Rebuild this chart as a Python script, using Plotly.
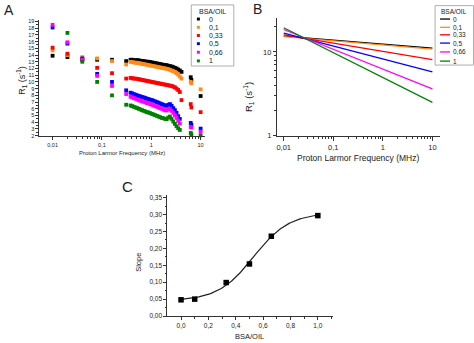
import plotly.graph_objects as go

W, H = 474, 343

# ---------------- data ----------------
SERIES_NAMES = ["0", "0,1", "0,33", "0,5", "0,66", "1"]
BSA_OIL = [0.0, 0.1, 0.33, 0.5, 0.66, 1.0]
COLORS = ["#000000", "#FF8C1A", "#FF0000", "#0000FF", "#FF00FF", "#008000"]

# NMRD profiles (panel A)
LOW_FREQ = [0.01, 0.02, 0.04, 0.08, 0.16, 0.31]
DENSE_FREQ = [0.38, 0.41, 0.44, 0.48, 0.52, 0.56, 0.60, 0.65, 0.70, 0.76, 0.82,
              0.88, 0.95, 1.03, 1.11, 1.20, 1.30, 1.40, 1.51, 1.63, 1.76, 1.90,
              2.05, 2.21, 2.39, 2.58, 2.79, 3.01, 3.25, 3.51, 3.79, 4.10]
HIGH_FREQ = [6.3, 6.5, 10.0]

R1_LOW = [
    [13.9, 13.7, 13.3, 13.3, 13.3, 13.1],
    [14.7, 14.0, 13.7, 13.5, 13.1, 12.6],
    [15.1, 14.2, 13.4, 12.1, 11.3, 10.5],
    [18.1, 15.7, 13.5, 11.2, 10.0, 8.75],
    [18.5, 15.9, 13.3, 10.9, 9.4, 8.2],
    [None, 17.3, 13.0, 10.0, 8.0, 6.6],
]
R1_DENSE = [
    [13.3, 13.3, 13.25, 13.2, 13.25, 13.2, 13.15, 13.1, 13.1, 13.05, 13.0,
     13.0, 12.95, 12.9, 12.85, 12.8, 12.75, 12.7, 12.65, 12.6, 12.55, 12.5,
     12.5, 12.4, 12.35, 12.3, 12.2, 12.1, 12.0, 11.85, 11.7, 11.5],
    [13.0, 12.95, 12.9, 12.85, 12.85, 12.8, 12.75, 12.7, 12.65, 12.6, 12.55,
     12.5, 12.45, 12.4, 12.35, 12.3, 12.25, 12.2, 12.15, 12.1, 12.05, 12.0,
     11.95, 11.9, 11.8, 11.7, 11.6, 11.5, 11.3, 11.1, 10.8, 10.5],
    [10.6, 10.55, 10.5, 10.5, 10.45, 10.4, 10.35, 10.3, 10.25, 10.2, 10.15,
     10.1, 10.05, 10.0, 9.95, 9.9, 9.85, 9.8, 9.75, 9.7, 9.65, 9.6,
     9.55, 9.5, 9.45, 9.4, 9.3, 9.2, 9.0, 8.8, 8.5, 7.3],
    [8.4, 8.3, 8.2, 8.1, 8.0, 7.9, 7.85, 7.75, 7.7, 7.6, 7.5,
     7.45, 7.35, 7.3, 7.2, 7.1, 7.0, 6.9, 6.8, 6.7, 6.6, 6.5,
     6.45, 6.6, 6.7, 6.45, 6.1, 5.8, 5.4, 4.9, 4.5, None],
    [7.8, 7.7, 7.6, 7.5, 7.4, 7.3, 7.2, 7.1, 7.05, 6.95, 6.85,
     6.8, 6.7, 6.6, 6.5, 6.4, 6.3, 6.2, 6.1, 6.0, 5.9, 5.8,
     5.75, 5.95, 6.0, 5.7, 5.4, 5.05, 4.65, 4.2, 3.8, None],
    [6.5, 6.4, 6.3, 6.2, 6.1, 6.0, 5.9, 5.8, 5.7, 5.6, 5.5,
     5.45, 5.35, 5.25, 5.15, 5.05, 4.95, 4.85, 4.75, 4.65, 4.6, 4.5,
     4.45, 4.7, 4.85, 4.5, 4.1, 3.75, 3.4, 3.1, 2.85, None],
]
R1_HIGH = [
    [10.7, 10.3, 7.9],
    [10.0, 9.8, 8.9],
    [6.7, 6.2, 5.5],
    [3.9, 3.6, 3.05],
    [3.3, 3.2, 2.6],
    [2.4, 2.2, 2.05],
]

# power-law fits R1 = R1_1MHZ * f^(-slope)  (panel B) and slopes (panel C)
SLOPE = [0.048, 0.050, 0.099, 0.154, 0.236, 0.297]
R1_1MHZ = [12.4, 12.1, 10.15, 8.25, 6.25, 4.95]
FIT_FREQ = [0.01, 10.0]

# Boltzmann sigmoid fit of slope vs BSA/OIL
BOLTZ_A1, BOLTZ_A2, BOLTZ_X0, BOLTZ_DX = 0.045, 0.305, 0.53, 0.13
CURVE_X = [i / 100 for i in range(0, 101)]

FONT = "Arial, Liberation Sans, sans-serif"

fig = go.Figure()

# ---------------- panel A ----------------
for name, col, lo, de, hi in zip(SERIES_NAMES, COLORS, R1_LOW, R1_DENSE, R1_HIGH):
    fig.add_trace(go.Scatter(
        x=LOW_FREQ + DENSE_FREQ + HIGH_FREQ, y=lo + de + hi,
        mode="markers", marker=dict(symbol="square", size=3.8, color=col, line=dict(width=0)),
        name=name, xaxis="x", yaxis="y", showlegend=False, cliponaxis=False))

# ---------------- panel B ----------------
for name, col, s, a in zip(SERIES_NAMES, COLORS, SLOPE, R1_1MHZ):
    fig.add_trace(go.Scatter(
        x=FIT_FREQ, y=[a * f ** (-s) for f in FIT_FREQ],
        mode="lines", line=dict(color=col, width=1.3),
        name=name, xaxis="x2", yaxis="y2", showlegend=False))

# ---------------- panel C ----------------
curve_y = [BOLTZ_A2 + (BOLTZ_A1 - BOLTZ_A2) / (1 + 2.718281828 ** ((x - BOLTZ_X0) / BOLTZ_DX))
           for x in CURVE_X]
fig.add_trace(go.Scatter(x=CURVE_X, y=curve_y, mode="lines",
                         line=dict(color="#222222", width=1.2),
                         xaxis="x3", yaxis="y3", showlegend=False))
fig.add_trace(go.Scatter(x=BSA_OIL, y=SLOPE, mode="markers",
                         marker=dict(symbol="square", size=5.5, color="#000000"),
                         xaxis="x3", yaxis="y3", showlegend=False, cliponaxis=False))


def px_x(p):
    return p / W


def px_y(p):
    return 1 - p / H


def minor_log():
    vals = []
    for d in [0.01, 0.1, 1.0]:
        vals += [d * k for k in range(2, 10)]
    return vals


axis_common = dict(showline=True, linecolor="#333333", linewidth=1, ticks="outside",
                   tickcolor="#333333", showgrid=False, zeroline=False, mirror=False)

layout = dict(
    width=W, height=H, margin=dict(l=0, r=0, t=0, b=0),
    paper_bgcolor="white", plot_bgcolor="white",
    font=dict(family=FONT, color="#222222"),
    xaxis=dict(**axis_common, type="log", domain=[px_x(38), px_x(204)],
               range=[-2.277, 1.08], anchor="y",
               tickvals=[0.01, 0.1, 1, 10], ticktext=["0,01", "0,1", "1", "10"],
               ticklen=3, tickwidth=1, tickfont=dict(size=5.5),
               minor=dict(ticks="outside", ticklen=1.8, tickcolor="#333333",
                          tickvals=minor_log())),
    yaxis=dict(**axis_common, domain=[px_y(137), px_y(19)], range=[1.95, 19.26],
               anchor="x", tickvals=list(range(2, 20)), ticklen=2.5,
               tickfont=dict(size=5.5),
               minor=dict(ticks="outside", ticklen=1.5, tickcolor="#333333",
                          tickvals=[k + 0.5 for k in range(2, 19)])),
    xaxis2=dict(**axis_common, type="log", domain=[px_x(277), px_x(440)],
                range=[-2.127, 1.155], anchor="y2",
                tickvals=[0.01, 0.1, 1, 10], ticktext=["0,01", "0,1", "1", "10"],
                ticklen=3.5, tickfont=dict(size=7.5),
                minor=dict(ticks="outside", ticklen=2, tickcolor="#333333",
                           tickvals=minor_log())),
    yaxis2=dict(**axis_common, type="log", domain=[px_y(137), px_y(17)],
                range=[-0.0035, 1.408], anchor="x2",
                tickvals=[1, 10], ticktext=["1", "10"], ticklen=3.5,
                tickfont=dict(size=7.5),
                minor=dict(ticks="outside", ticklen=2, tickcolor="#333333",
                           tickvals=[2, 3, 4, 5, 6, 7, 8, 9, 20])),
    xaxis3=dict(**axis_common, domain=[px_x(166.7), px_x(333)], range=[-0.1, 1.113],
                anchor="y3", tickvals=[0, 0.2, 0.4, 0.6, 0.8, 1.0],
                ticktext=["0,0", "0,2", "0,4", "0,6", "0,8", "1,0"],
                ticklen=3, tickfont=dict(size=6.5),
                minor=dict(ticks="outside", ticklen=1.8, tickcolor="#333333",
                           tickvals=[0.1, 0.3, 0.5, 0.7, 0.9, 1.1])),
    yaxis3=dict(**axis_common, domain=[px_y(319.7), px_y(197)], range=[0, 0.3575],
                anchor="x3", tickvals=[0, 0.05, 0.1, 0.15, 0.2, 0.25, 0.3, 0.35],
                ticktext=["0,00", "0,05", "0,10", "0,15", "0,20", "0,25", "0,30", "0,35"],
                ticklen=3, tickfont=dict(size=6.5),
                minor=dict(ticks="outside", ticklen=1.8, tickcolor="#333333",
                           tickvals=[0.025, 0.075, 0.125, 0.175, 0.225, 0.275, 0.325])),
)
fig.update_layout(**layout)

ann = []
shapes = []


def text(x, y, s, size, angle=0, xanchor="center", yanchor="middle", color="#222222"):
    ann.append(dict(x=px_x(x), y=px_y(y), xref="paper", yref="paper", text=s,
                    showarrow=False, textangle=angle, xanchor=xanchor, yanchor=yanchor,
                    font=dict(size=size, family=FONT, color=color)))


# panel letters
text(1, 9, "A", 14, xanchor="left")
text(251, 8, "B", 14, xanchor="left")
text(119, 188, "C", 15, xanchor="left")

# axis titles
text(121, 154, "Proton Larmor Frequency (MHz)", 6)
text(21, 80, "R<sub>1</sub> (s<sup>-1</sup>)", 9, angle=-90)
text(358, 159, "Proton Larmor Frequency (MHz)", 8.5)
text(248, 97, "R<sub>1</sub> (s<sup>-1</sup>)", 9.5, angle=-90)
text(249, 340, "BSA/OIL", 7.5)
text(137, 265, "Slope", 7.5, angle=-90)

# legend of panel A (square markers)
shapes.append(dict(type="rect", xref="paper", yref="paper",
                   x0=px_x(190.7), x1=px_x(233.3), y0=px_y(66), y1=px_y(4),
                   line=dict(color="#999999", width=0.8), fillcolor="white"))
text(212, 10.5, "BSA/OIL", 7)
entry_y = [18.3, 26.7, 35.0, 43.3, 52.0, 60.8]
for name, col, ey in zip(SERIES_NAMES, COLORS, entry_y):
    shapes.append(dict(type="rect", xref="paper", yref="paper",
                       x0=px_x(196.3), x1=px_x(199.3), y0=px_y(ey + 1.5), y1=px_y(ey - 1.5),
                       line=dict(width=0), fillcolor=col))
    text(206, ey, name, 7, xanchor="left")

# legend of panel B (line swatches)
shapes.append(dict(type="rect", xref="paper", yref="paper",
                   x0=px_x(435), x1=px_x(473.5), y0=px_y(65), y1=px_y(4.7),
                   line=dict(color="#999999", width=0.8), fillcolor="white"))
text(454, 10.5, "BSA/OIL", 6.5)
entry_y_b = [18.3, 26.7, 34.3, 42.7, 51.7, 61.0]
for name, col, ey in zip(SERIES_NAMES, COLORS, entry_y_b):
    shapes.append(dict(type="line", xref="paper", yref="paper",
                       x0=px_x(440), x1=px_x(450), y0=px_y(ey), y1=px_y(ey),
                       line=dict(color=col, width=1.3)))
    text(450.5, ey, name, 6.5, xanchor="left")

fig.update_layout(annotations=ann, shapes=shapes)

fig.write_html("out.html")
